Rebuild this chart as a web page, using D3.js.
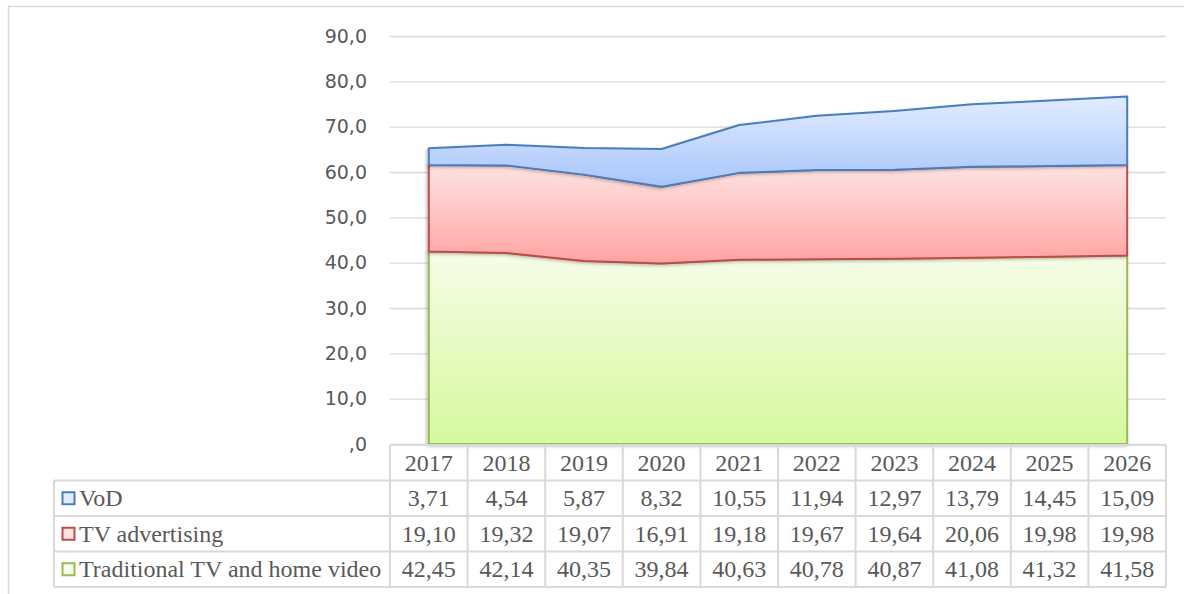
<!DOCTYPE html>
<html>
<head>
<meta charset="utf-8">
<script src="https://cdn.jsdelivr.net/npm/d3@7"></script>
<style>
  body { margin: 0; background: #fff; }
  .serif { font-family: "Liberation Serif", "Times New Roman", serif; }
  .sans { font-family: "DejaVu Sans", Verdana, sans-serif; }
</style>
</head>
<body>
<div id="container"></div>
<script>
// DATA
const years = ["2017", "2018", "2019", "2020", "2021", "2022", "2023", "2024", "2025", "2026"];
const seriesNames = ["VoD", "TV advertising", "Traditional TV and home video"];
const vod = [3.71, 4.54, 5.87, 8.32, 10.55, 11.94, 12.97, 13.79, 14.45, 15.09];
const tvAdvertising = [19.10, 19.32, 19.07, 16.91, 19.18, 19.67, 19.64, 20.06, 19.98, 19.98];
const traditionalTv = [42.45, 42.14, 40.35, 39.84, 40.63, 40.78, 40.87, 41.08, 41.32, 41.58];
const yTicks = [0, 10, 20, 30, 40, 50, 60, 70, 80, 90];

const width = 1184, height = 594;
const plot = { left: 390, right: 1166, top: 36, bottom: 444 };
const rowH = 35.5;
const legendLeft = 54;

// colours per series: stroke, gradient top, gradient bottom
const styles = {
  "VoD": { stroke: "#4a7ebb", top: "#e2ecff", bottom: "#a8c5fb" },
  "TV advertising": { stroke: "#be4b48", top: "#ffe3e3", bottom: "#ffa3a3" },
  "Traditional TV and home video": { stroke: "#98b954", top: "#f6fde9", bottom: "#d5f99c" }
};

const table = years.map((y, i) => ({
  year: y,
  "Traditional TV and home video": traditionalTv[i],
  "TV advertising": tvAdvertising[i],
  "VoD": vod[i]
}));

const stack = d3.stack()
  .keys(["Traditional TV and home video", "TV advertising", "VoD"]);
const stacked = stack(table);

const xScale = d3.scaleBand()
  .domain(years)
  .range([plot.left, plot.right]);

const yScale = d3.scaleLinear()
  .domain([0, 90])
  .range([plot.bottom, plot.top]);

const fmtTick = v => v === 0 ? ",0" : d3.format(".1f")(v).replace(".", ",");
const fmtVal = v => d3.format(".2f")(v).replace(".", ",");

const svg = d3.select("#container")
  .append("svg")
  .attr("width", width)
  .attr("height", height)
  .style("display", "block");

// outer chart border
svg.append("rect")
  .attr("x", 8.5).attr("y", 6.5)
  .attr("width", 1200).attr("height", 620)
  .attr("fill", "none")
  .attr("stroke", "#d9d9d9")
  .attr("stroke-width", 1.5);

const defs = svg.append("defs");
const shadow = defs.append("filter").attr("id", "shadow")
  .attr("x", "-5%").attr("y", "-5%").attr("width", "110%").attr("height", "110%");
shadow.append("feDropShadow")
  .attr("dx", -1.5).attr("dy", 1.5).attr("stdDeviation", 1.5)
  .attr("flood-color", "#000").attr("flood-opacity", 0.25);

// gridlines
const yAxis = d3.axisLeft(yScale)
  .tickValues(yTicks)
  .tickSize(-(plot.right - plot.left))
  .tickFormat(fmtTick)
  .tickPadding(23);

svg.append("g")
  .attr("transform", `translate(${plot.left},0)`)
  .call(yAxis)
  .attr("font-family", null)
  .attr("font-size", null)
  .call(g => g.select(".domain").remove())
  .call(g => g.selectAll(".tick line").attr("stroke", "#d9d9d9").attr("stroke-width", 1.3))
  .call(g => g.selectAll(".tick text")
    .attr("class", "sans")
    .attr("fill", "#595959")
    .attr("font-size", 19));

// areas
const area = d3.area()
  .x((d, i) => xScale(years[i]) + xScale.bandwidth() / 2)
  .y0(d => yScale(d[0]))
  .y1(d => yScale(d[1]));

stacked.forEach(layer => {
  const st = styles[layer.key];
  const gid = "grad" + layer.index;
  const lo = d3.min(layer, d => d[0]);
  const hi = d3.max(layer, d => d[1]);
  const grad = defs.append("linearGradient")
    .attr("id", gid)
    .attr("gradientUnits", "userSpaceOnUse")
    .attr("x1", 0).attr("x2", 0)
    .attr("y1", yScale(hi)).attr("y2", yScale(lo));
  grad.append("stop").attr("offset", "0%").attr("stop-color", st.top);
  grad.append("stop").attr("offset", "100%").attr("stop-color", st.bottom);
});

svg.append("g")
  .selectAll("path")
  .data(stacked)
  .join("path")
  .attr("d", area)
  .attr("fill", d => `url(#grad${d.index})`)
  .attr("stroke", d => styles[d.key].stroke)
  .attr("stroke-width", 2)
  .attr("stroke-linejoin", "round")
  .attr("filter", "url(#shadow)");

// data table
const tbl = svg.append("g");
const tTop = plot.bottom + 1;
const grid = "#d9d9d9";
const fs = 24;

// header row
tbl.selectAll(".hdr")
  .data(years)
  .join("text")
  .attr("class", "serif")
  .attr("x", d => xScale(d) + xScale.bandwidth() / 2)
  .attr("y", tTop + rowH / 2 + 8)
  .attr("text-anchor", "middle")
  .attr("fill", "#595959")
  .attr("font-size", fs)
  .text(d => d);

const rows = [
  { name: "VoD", values: vod },
  { name: "TV advertising", values: tvAdvertising },
  { name: "Traditional TV and home video", values: traditionalTv }
];

rows.forEach((r, ri) => {
  const cy = tTop + rowH * (ri + 1) + rowH / 2;
  const st = styles[r.name];
  tbl.append("rect")
    .attr("x", 62.5).attr("y", cy - 6)
    .attr("width", 12).attr("height", 12)
    .attr("fill", st.top)
    .attr("stroke", st.stroke)
    .attr("stroke-width", 2);
  tbl.append("text")
    .attr("class", "serif")
    .attr("x", 79).attr("y", cy + 8)
    .attr("fill", "#595959")
    .attr("font-size", fs)
    .text(r.name);
  tbl.selectAll(null)
    .data(r.values)
    .join("text")
    .attr("class", "serif")
    .attr("x", (d, i) => xScale(years[i]) + xScale.bandwidth() / 2)
    .attr("y", cy + 8)
    .attr("text-anchor", "middle")
    .attr("fill", "#595959")
    .attr("font-size", fs)
    .text(d => fmtVal(d));
});

// table lines
const tBottom = tTop + rowH * 4;
for (let k = 0; k <= 4; k++) {
  const yy = tTop + rowH * k;
  tbl.append("line")
    .attr("x1", k === 0 ? plot.left : legendLeft).attr("x2", plot.right)
    .attr("y1", yy).attr("y2", yy)
    .attr("stroke", grid).attr("stroke-width", 2);
}
years.concat(["end"]).forEach((y, i) => {
  const xx = i < years.length ? xScale(y) : plot.right;
  tbl.append("line")
    .attr("x1", xx).attr("x2", xx)
    .attr("y1", tTop).attr("y2", tBottom)
    .attr("stroke", grid).attr("stroke-width", 2);
});
tbl.append("line")
  .attr("x1", legendLeft).attr("x2", legendLeft)
  .attr("y1", tTop + rowH).attr("y2", tBottom)
  .attr("stroke", grid).attr("stroke-width", 2);
</script>
</body>
</html>
